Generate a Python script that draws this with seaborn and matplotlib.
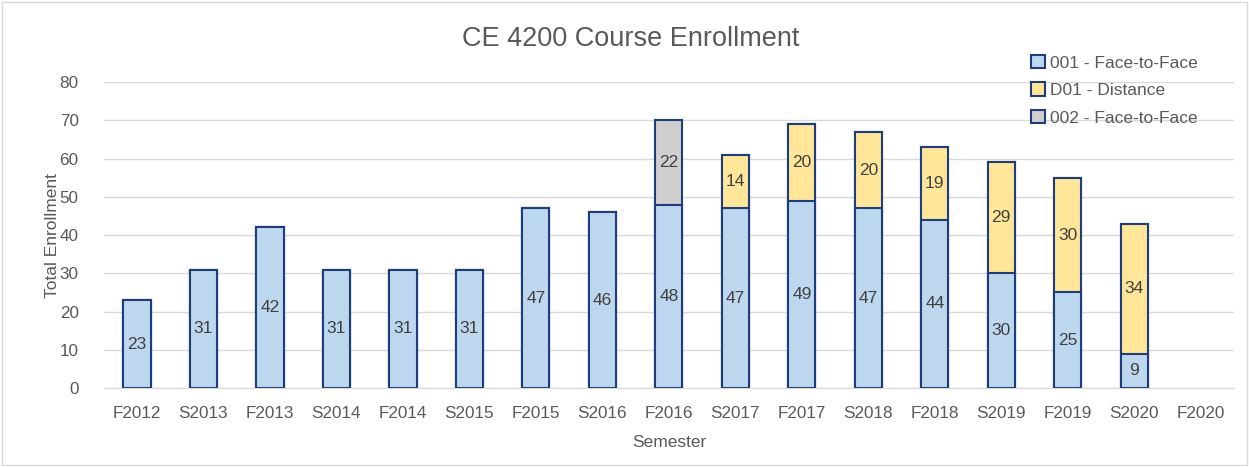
import numpy as np
import pandas as pd
import seaborn as sns
import matplotlib.pyplot as plt

semesters = ["F2012", "S2013", "F2013", "S2014", "F2014", "S2015", "F2015", "S2016", "F2016",
             "S2017", "F2017", "S2018", "F2018", "S2019", "F2019", "S2020", "F2020"]
f2f_001 = [23, 31, 42, 31, 31, 31, 47, 46, 48, 47, 49, 47, 44, 30, 25, 9, np.nan]
dist_d01 = [0, 0, 0, 0, 0, 0, 0, 0, 0, 14, 20, 20, 19, 29, 30, 34, np.nan]
f2f_002 = [0, 0, 0, 0, 0, 0, 0, 0, 22, 0, 0, 0, 0, 0, 0, 0, np.nan]

df = pd.DataFrame({"sem": semesters, "a": f2f_001, "d": dist_d01, "b": f2f_002})
df["ad"] = df["a"] + df["d"]
df["tot"] = df["ad"] + df["b"]

sns.set_style("white")
plt.rcParams["font.family"] = ["Liberation Sans", "DejaVu Sans"]
txt = "#595959"
edge = "#1F3D7A"
c_blue, c_yel, c_gray = "#BDD7EE", "#FFE699", "#D0CECE"

fig = plt.figure(figsize=(12.49, 4.67), dpi=100)
ax = fig.add_axes([0.083, 0.169, 0.905, 0.655])
ax.yaxis.grid(True, color="#D9D9D9", lw=1)
ax.set_axisbelow(True)

w = 0.41
sns.barplot(data=df, x="sem", y="tot", color=c_gray, edgecolor=edge, linewidth=1.5,
            width=w, saturation=1, ax=ax, label="002 - Face-to-Face")
sns.barplot(data=df, x="sem", y="ad", color=c_yel, edgecolor=edge, linewidth=1.5,
            width=w, saturation=1, ax=ax, label="D01 - Distance")
sns.barplot(data=df, x="sem", y="a", color=c_blue, edgecolor=edge, linewidth=1.5,
            width=w, saturation=1, ax=ax, label="001 - Face-to-Face")

lab_kw = dict(ha="center", va="center", fontsize=12.5, color="#404040")
for i, r in df.iterrows():
    if np.isnan(r["a"]):
        continue
    ax.text(i, r["a"] / 2, f"{int(r['a'])}", **lab_kw)
    if r["d"] > 0:
        ax.text(i, r["a"] + r["d"] / 2, f"{int(r['d'])}", **lab_kw)
    if r["b"] > 0:
        ax.text(i, r["ad"] + r["b"] / 2, f"{int(r['b'])}", **lab_kw)

ax.set_ylim(0, 80)
ax.set_yticks(range(0, 81, 10))
ax.set_xlim(-0.5, len(semesters) - 0.5)
for s in ["top", "right", "left"]:
    ax.spines[s].set_visible(False)
ax.spines["bottom"].set_color("#D9D9D9")
ax.tick_params(axis="x", length=0, labelsize=12.3, colors=txt, pad=13)
ax.tick_params(axis="y", length=0, labelsize=12.3, colors=txt, pad=18)
ax.set_xlabel("Semester", fontsize=12.5, color=txt, labelpad=10)
ax.set_ylabel("Total Enrollment", fontsize=12.5, color=txt, labelpad=0)
fig.suptitle("CE 4200 Course Enrollment", fontsize=19.5, color=txt, y=0.945, x=0.505)

h, l = ax.get_legend_handles_labels()
leg = ax.legend(h[::-1], l[::-1], loc="upper right", bbox_to_anchor=(0.982, 1.14), frameon=False,
                fontsize=12.5, handlelength=0.8, handleheight=0.8, handletextpad=0.3, labelspacing=0.68)
for t in leg.get_texts():
    t.set_color(txt)

fig.patches.append(plt.Rectangle((0.002, 0.004), 0.996, 0.992, transform=fig.transFigure,
                                 fill=False, edgecolor="#D9D9D9", lw=1))
fig.savefig("out.png", dpi=100)
